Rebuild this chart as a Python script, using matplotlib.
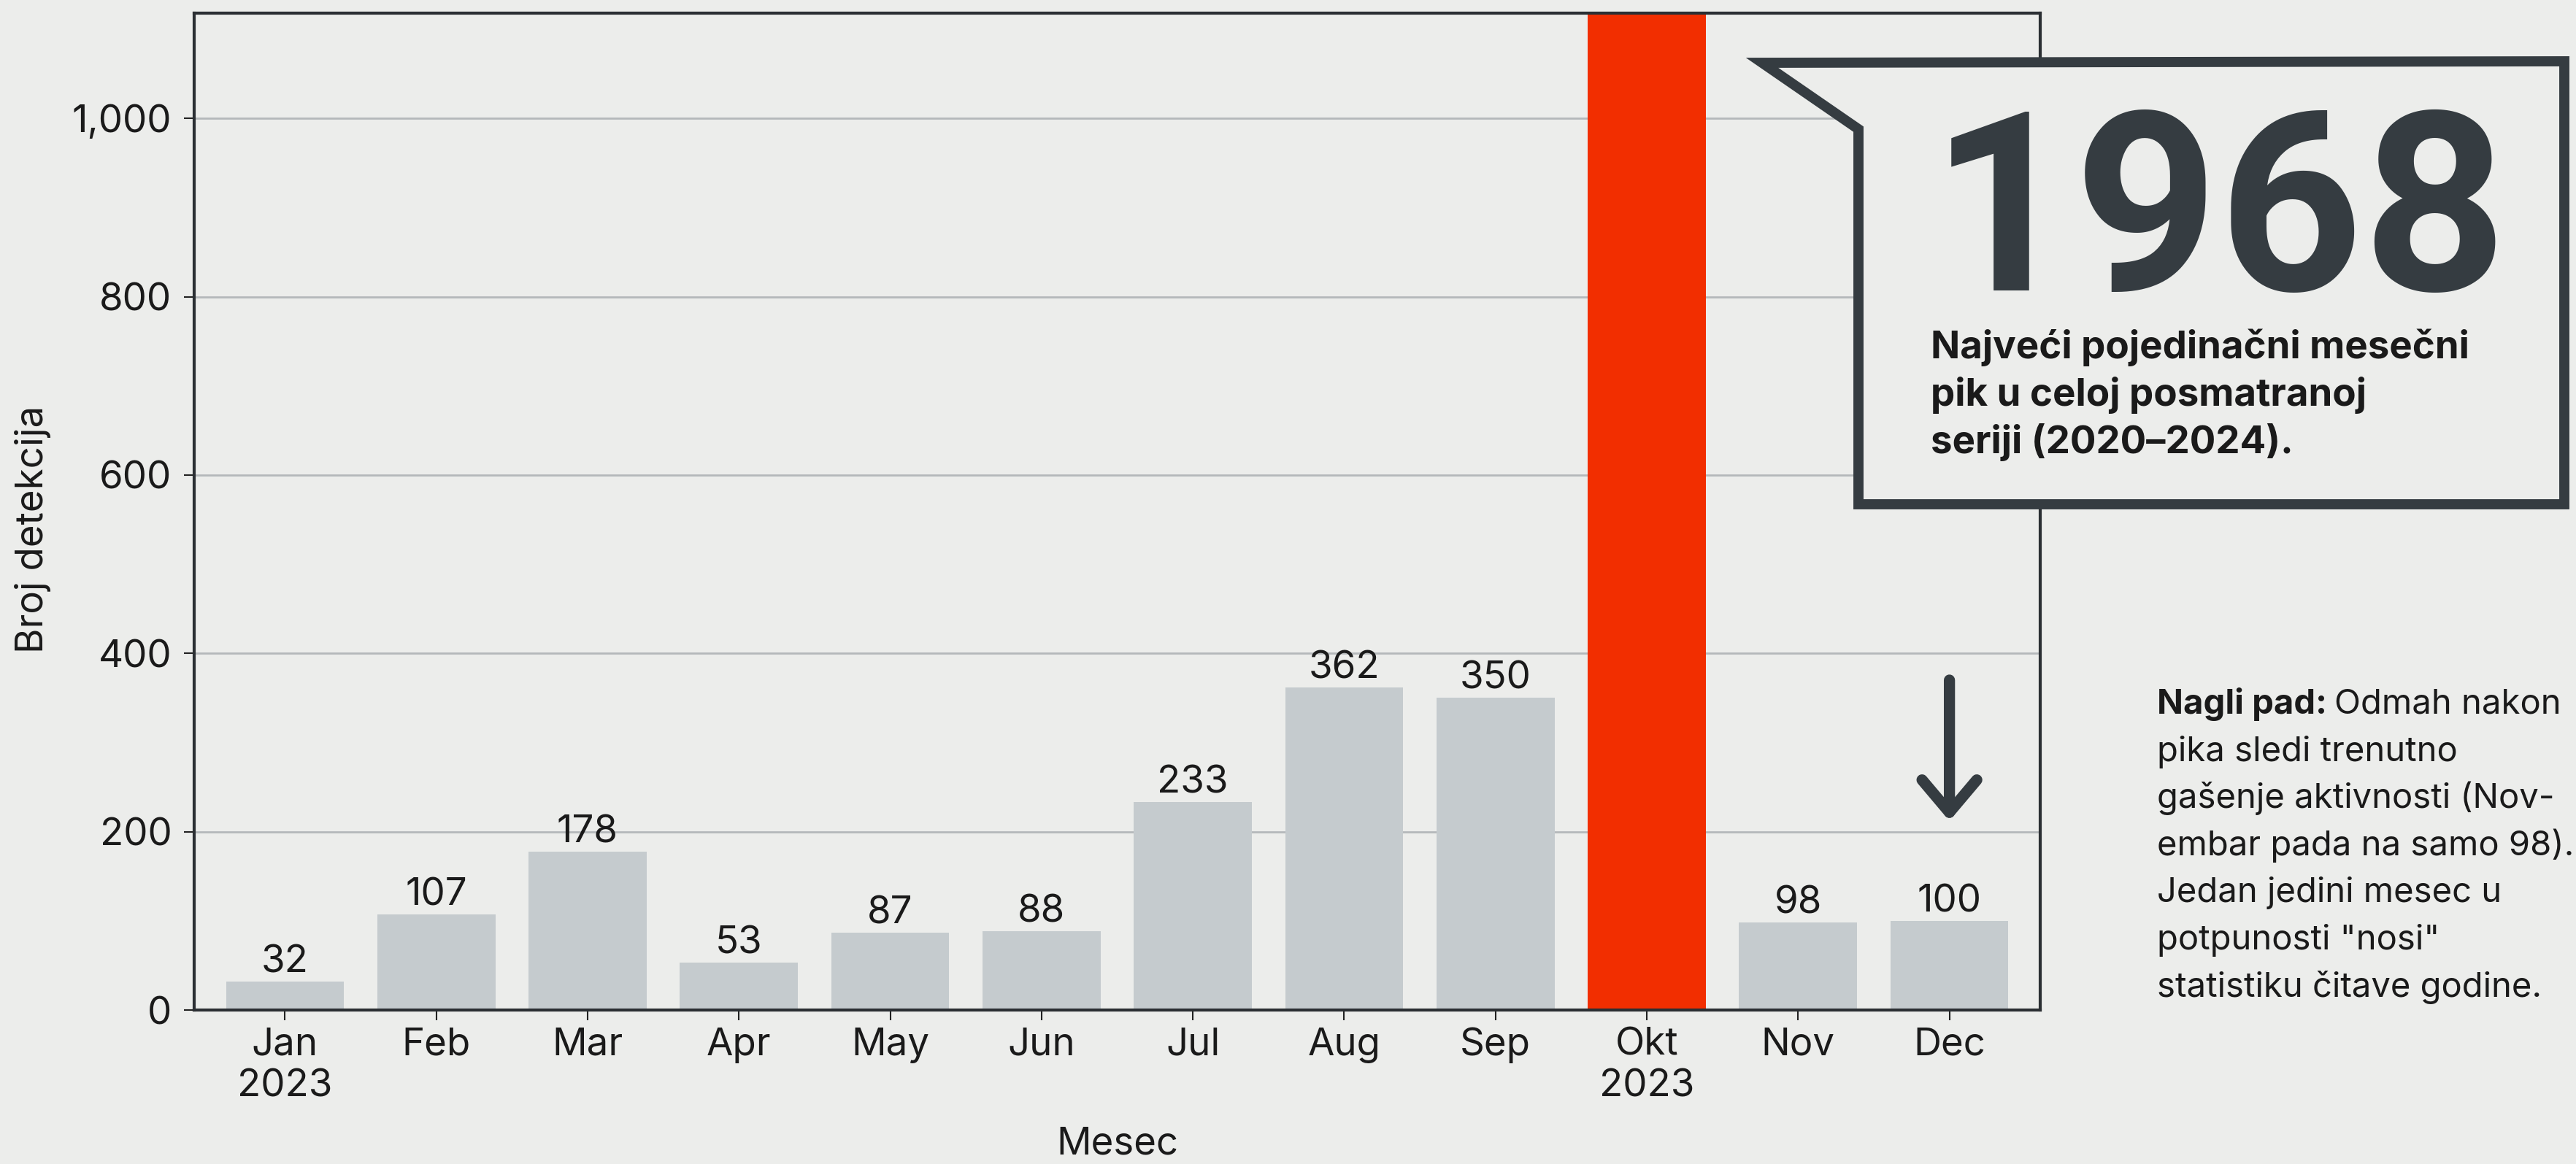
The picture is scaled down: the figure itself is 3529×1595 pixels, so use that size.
import matplotlib
matplotlib.use('Agg')
import matplotlib.pyplot as plt
from matplotlib.patches import Polygon
from matplotlib.ticker import FuncFormatter

# podaci
meseci = ['Jan\n2023', 'Feb', 'Mar', 'Apr', 'May', 'Jun', 'Jul', 'Aug', 'Sep', 'Okt\n2023', 'Nov', 'Dec']
detekcije = [32, 107, 178, 53, 87, 88, 233, 362, 350, 1968, 98, 100]
istaknuti = 'Okt\n2023'
yticks = [0, 200, 400, 600, 800, 1000]

okvir_linije = ['Najveći pojedinačni mesečni', 'pik u celoj posmatranoj', 'seriji (2020–2024).']
napomena_linije = ['pika sledi trenutno', 'gašenje aktivnosti (Nov-', 'embar pada na samo 98).',
                   'Jedan jedini mesec u', 'potpunosti "nosi"', 'statistiku čitave godine.']

W, H = 3529, 1595
BG = '#ecedeb'
SIVA = '#c5cbce'
CRVENA = '#f22e00'
TAMNA = '#353c41'
TEKST = '#1a1a1a'

plt.rcParams['font.family'] = ['Inter', 'DejaVu Sans']


def fp(px, py):
    # piksel (od gore levo) -> figure koordinate
    return (px / W, 1 - py / H)


fig = plt.figure(figsize=(W / 100, H / 100), dpi=100, facecolor=BG)
ax = fig.add_axes([266 / W, 1 - 1384 / H, (2795 - 266) / W, (1384 - 18) / H])
ax.set_facecolor(BG)

x = list(range(len(meseci)))
boje = [CRVENA if m == istaknuti else SIVA for m in meseci]
ax.bar(x, detekcije, width=0.78, color=boje, zorder=2)
for xi, v, m in zip(x, detekcije, meseci):
    if m == istaknuti:
        continue
    ax.annotate(str(v), (xi, v), xytext=(0, 9), textcoords='offset points',
                ha='center', va='baseline', fontsize=38, color=TEKST)

ax.set_xlim(-0.6, 11.6)
ax.set_ylim(0, 1118)
ax.set_yticks(yticks)
ax.yaxis.set_major_formatter(FuncFormatter(lambda v, p: f'{int(v):,}'))
ax.set_xticks(x)
ax.set_xticklabels(meseci)
ax.tick_params(axis='both', labelsize=38, length=10, width=1.5, color='#222222', labelcolor=TEKST)
ax.tick_params(axis='x', pad=7)
ax.tick_params(axis='y', pad=12)
ax.grid(axis='y', color='#b4b8ba', lw=2)
ax.set_axisbelow(True)
for s in ax.spines.values():
    s.set_linewidth(3)
    s.set_color('#2b2f33')

ax.set_ylabel('Broj detekcija', fontsize=38, va='center', color=TEKST)
ax.yaxis.set_label_coords(-0.0874, 0.482)
ax.set_xlabel('Mesec', fontsize=38, va='center', color=TEKST)
ax.xaxis.set_label_coords(0.5, -0.135)

# strelica iznad decembra
ax.annotate('', xy=(11, 212), xytext=(11, 370),
            arrowprops=dict(arrowstyle='->,head_length=1.6,head_width=1.35', lw=11,
                            color=TAMNA, mutation_scale=20, shrinkA=0, shrinkB=0))

# okvir sa 1968
pts = [fp(2414, 86), fp(3513, 84), fp(3513, 691), fp(2546, 691), fp(2546, 177)]
fig.add_artist(Polygon(pts, closed=True, transform=fig.transFigure, facecolor=BG,
                       edgecolor=TAMNA, lw=10, joinstyle='miter', zorder=5))
fig.text(*fp(2645, 398), '1968', fontsize=248, fontweight='bold', family=['Roboto', 'DejaVu Sans'],
         color=TAMNA, ha='left', va='baseline', zorder=6)
for i, linija in enumerate(okvir_linije):
    fig.text(*fp(2645, 491 + 65 * i), linija, fontsize=38, fontweight='bold', color=TEKST,
             ha='left', va='baseline', zorder=6)

# napomena desno
t1 = fig.text(*fp(2955, 978), 'Nagli pad:', fontsize=34, fontweight='bold', color=TEKST,
              ha='left', va='baseline')
fig.canvas.draw()
bb = t1.get_window_extent()
fig.text(bb.x1 / W + 10 / W, 1 - 978 / H, 'Odmah nakon', fontsize=34, color=TEKST,
         ha='left', va='baseline')
for i, linija in enumerate(napomena_linije):
    fig.text(*fp(2955, 978 + 64.6 * (i + 1)), linija, fontsize=34, color=TEKST,
             ha='left', va='baseline')

fig.savefig('out.png', dpi=100, facecolor=BG)
